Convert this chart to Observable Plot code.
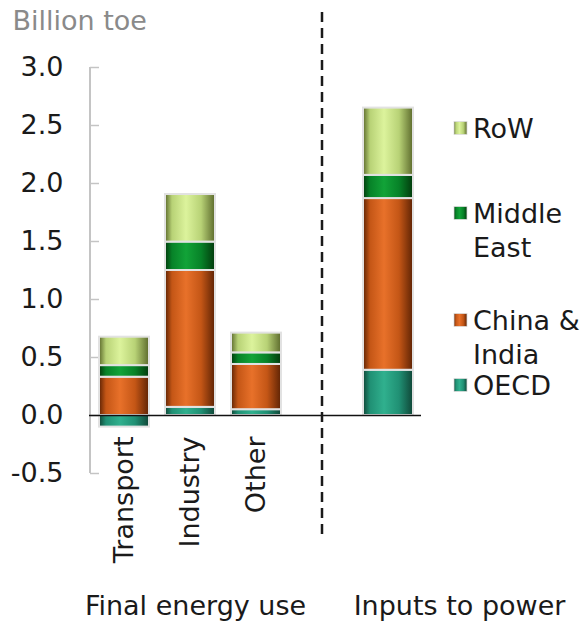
<!DOCTYPE html>
<html><head><meta charset="utf-8">
<script src="https://cdn.jsdelivr.net/npm/d3@7"></script>
<script src="https://cdn.jsdelivr.net/npm/@observablehq/plot@0.6"></script>
<style>body{margin:0;background:#fff}</style>
</head><body><div id="chart"></div>
<script>
// ---- data ----
const barCats = ["Transport", "Industry", "Other", "Inputs to power"];
const xDomain = ["Transport", "Industry", "Other", "gap", "Inputs to power"];
const seriesNames = ["OECD", "China & India", "Middle East", "RoW"];
const oecd       = [-0.10, 0.07, 0.05, 0.39];
const chinaIndia = [0.33, 1.18, 0.39, 1.48];
const middleEast = [0.10, 0.245, 0.10, 0.20];
const rowVals    = [0.245, 0.41, 0.17, 0.58];
const yTicks = [-0.5, 0, 0.5, 1, 1.5, 2, 2.5, 3];
const catLabels = ["Transport", "Industry", "Other"];
const groupLabels = ["Final energy use", "Inputs to power"];
const yTitle = "Billion toe";
const legendLines = [["RoW"], ["Middle", "East"], ["China &", "India"], ["OECD"]];
const legendOrder = ["RoW", "Middle East", "China & India", "OECD"];

const seriesValues = {"OECD": oecd, "China & India": chinaIndia, "Middle East": middleEast, "RoW": rowVals};
const data = [];
seriesNames.forEach(s => barCats.forEach((c, i) => data.push({cat: c, series: s, value: seriesValues[s][i]})));

// gradient palettes: [edge dark, mid, bright]
const palette = {
  "OECD":          ["#0f4536", "#209074", "#30b08e"],
  "China & India": ["#5e2304", "#c45616", "#e8712a"],
  "Middle East":   ["#023a0c", "#078228", "#12a338"],
  "RoW":           ["#5c6a2c", "#b8d276", "#dcf39c"]
};
const gid = s => "grad-" + seriesNames.indexOf(s);

const FONT = "DejaVu Sans";
const FS = 27;

function defsMark() {
  const defs = d3.create("svg:defs");
  seriesNames.forEach(s => {
    const [dark, mid, bright] = palette[s];
    const g = defs.append("linearGradient").attr("id", gid(s)).attr("x1", 0).attr("x2", 1).attr("y1", 0).attr("y2", 0);
    [[0, dark], [0.14, mid], [0.42, bright], [0.72, mid], [1, dark]].forEach(([o, c]) =>
      g.append("stop").attr("offset", o).attr("stop-color", c));
  });
  return defs.node();
}

function axisLine(index, scales, values, dim) {
  const y = scales.y;
  return d3.create("svg:line").attr("x1", dim.marginLeft).attr("x2", dim.marginLeft)
    .attr("y1", y(3)).attr("y2", y(-0.5)).attr("stroke", "#c4c4c4").attr("stroke-width", 2).node();
}

function dashedDivider(index, scales, values, dim) {
  const x = scales.x;
  const bw = typeof x.bandwidth === "function" ? x.bandwidth() : (x.bandwidth || 0);
  const cx = x("gap") + bw / 2;
  return d3.create("svg:line").attr("x1", cx).attr("x2", cx).attr("y1", 12).attr("y2", 536)
    .attr("stroke", "#1a1a1a").attr("stroke-width", 2.5).attr("stroke-dasharray", "10,6").node();
}

function legendMark(index, scales, values, dim) {
  const g = d3.create("svg:g").attr("font-family", FONT).attr("font-size", FS)
    .attr("fill", "#1a1a1a").attr("text-anchor", "start");
  const ys = [128, 213, 320, 385];
  legendOrder.forEach((s, i) => {
    g.append("rect").attr("x", 454).attr("y", ys[i] - 6.5).attr("width", 13).attr("height", 13)
      .attr("fill", `url(#${gid(s)})`).attr("stroke", "#ddd").attr("stroke-width", 0.8);
    legendLines[i].forEach((t, j) => {
      g.append("text").attr("x", 473).attr("y", ys[i] + j * 34).attr("dy", "0.36em").text(t);
    });
  });
  return g.node();
}

const plot = Plot.plot({
  width: 585,
  height: 624,
  marginTop: 67,
  marginBottom: 151,
  marginLeft: 90,
  marginRight: 163,
  style: {fontFamily: FONT, background: "#fff", overflow: "visible"},
  x: {domain: xDomain, paddingInner: 0.25, paddingOuter: 0.12, axis: null},
  y: {domain: [-0.5, 3], axis: null},
  marks: [
    defsMark,
    axisLine,
    Plot.axisY({ticks: yTicks, tickSize: 9, dx: 9, tickFormat: () => "", stroke: "#c4c4c4", strokeWidth: 1.5, label: null}),
    Plot.axisY({ticks: yTicks, tickSize: 0, tickPadding: 27, tickFormat: d => d.toFixed(1), fontSize: FS, fill: "#1a1a1a", label: null}),
    Plot.barY(data, Plot.stackY({
      x: "cat", y: "value", z: "series", order: seriesNames,
      fill: d => `url(#${gid(d.series)})`,
      stroke: "#e2e2e2", strokeWidth: 2
    })),
    Plot.ruleY([0], {stroke: "#111", strokeWidth: 1.6, dx: -1}),
    dashedDivider,
    Plot.text(catLabels, {x: d => d, frameAnchor: "bottom", dy: -37, rotate: -90, textAnchor: "end", lineAnchor: "middle", fontSize: FS, fill: "#1a1a1a"}),
    Plot.text([yTitle], {frameAnchor: "top-left", dx: 12 - 90, dy: 21 - 67, textAnchor: "start", lineAnchor: "middle", fontSize: 27, fill: "#8a8a8a"}),
    Plot.text([groupLabels[0]], {frameAnchor: "top-left", dx: 195 - 90, dy: 606 - 67, textAnchor: "middle", lineAnchor: "middle", fontSize: FS, fill: "#1a1a1a"}),
    Plot.text([groupLabels[1]], {frameAnchor: "top-left", dx: 459 - 90, dy: 606 - 67, textAnchor: "middle", lineAnchor: "middle", fontSize: FS, fill: "#1a1a1a"}),
    legendMark
  ]
});
document.getElementById("chart").appendChild(plot);
</script>
</body></html>
